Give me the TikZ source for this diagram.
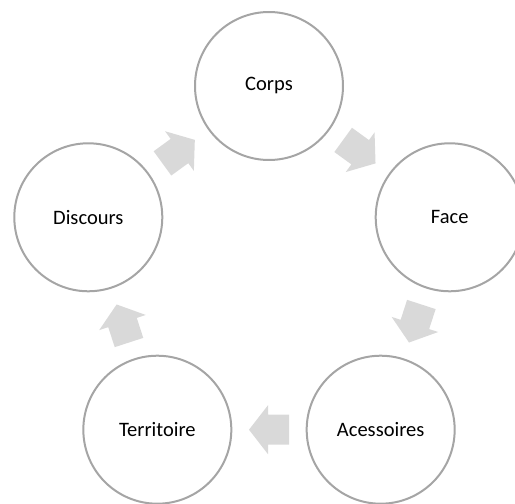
\documentclass[tikz,border=0pt]{standalone}
\usepackage{fontspec}
\setmainfont{Carlito}
\usetikzlibrary{calc}
\definecolor{ringgray}{RGB}{165,165,165}
\definecolor{arrowgray}{RGB}{217,217,217}
\tikzset{
  stage/.style={circle, draw=ringgray, line width=2pt, fill=white, minimum size=148pt, inner sep=0pt, font=\fontsize{20.5}{24}\selectfont},
  blockarrow/.style={fill=arrowgray, draw=none}
}
\begin{document}
\begin{tikzpicture}[x=1pt,y=1pt]
  \def\rad{190} % radius of the cycle
  \useasboundingbox (0,0) rectangle (515,504);
  \coordinate (center) at (269,228);

  % stages of the cycle
  \foreach \name/\ang/\text in {corps/90/Corps, face/18/Face, acess/-54/Acessoires, terr/-126/Territoire, disc/162/Discours} {
    \node[stage] (\name) at ($(center)+(\ang:\rad)$) {\text};
  }

  % block arrows between the stages
  \foreach \a/\b/\dir in {corps/face/-36, face/acess/-108, acess/terr/180, terr/disc/108, disc/corps/36} {
    \begin{scope}[shift={($(\a)!0.5!(\b)$)}, rotate=\dir]
      \fill[blockarrow] (-20,-15) -- (1,-15) -- (1,-24.5) -- (20,0) -- (1,24.5) -- (1,15) -- (-20,15) -- cycle;
    \end{scope}
  }
\end{tikzpicture}
\end{document}
